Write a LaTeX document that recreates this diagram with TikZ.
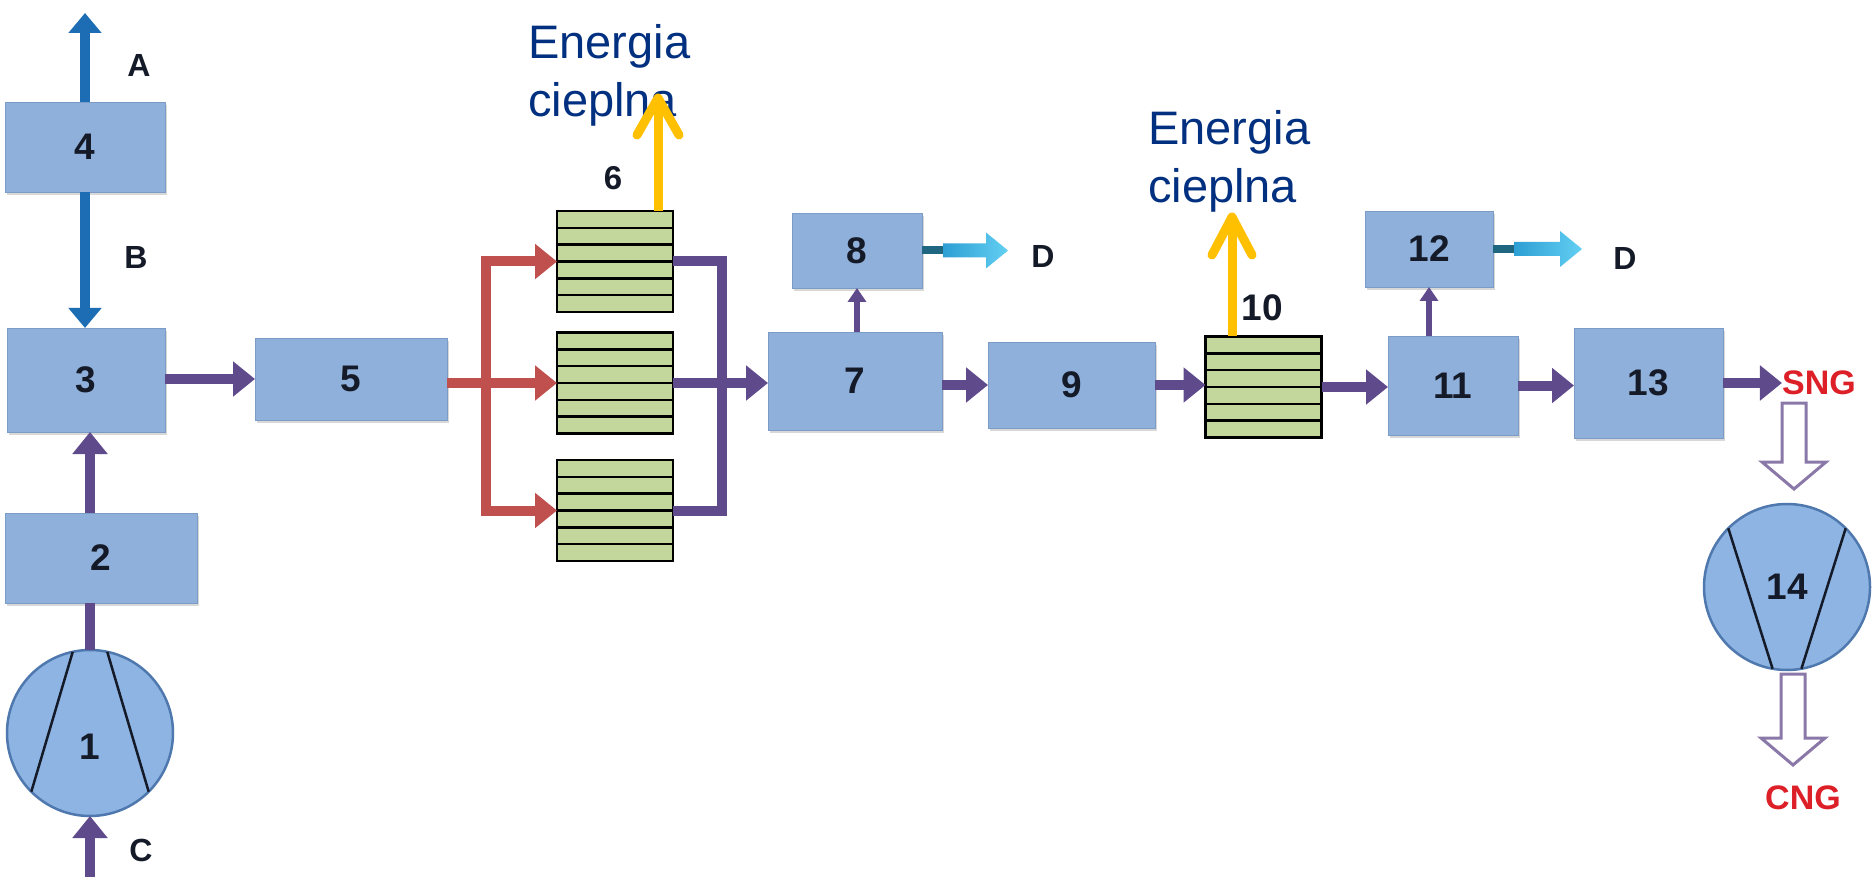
\documentclass[tikz,border=0pt]{standalone}
\usepackage{fontspec}
\setmainfont{Liberation Sans}
\usetikzlibrary{arrows.meta,calc,shadows}
\definecolor{boxblue}{HTML}{8FB0DA}
\definecolor{boxedge}{HTML}{7C9CC8}
\definecolor{flowpurple}{HTML}{5F4B8B}
\definecolor{flowred}{HTML}{C0504D}
\definecolor{flowblue}{HTML}{1C6DB4}
\definecolor{exgreen}{HTML}{C3D69B}
\definecolor{heatyellow}{HTML}{FFC000}
\definecolor{textnavy}{HTML}{00307F}
\definecolor{circfill}{HTML}{8DB4E2}
\definecolor{circedge}{HTML}{4F79AE}
\definecolor{hollowedge}{HTML}{8A78A8}
\definecolor{gasred}{HTML}{DD2027}
\definecolor{tealdark}{HTML}{1F6680}
\definecolor{cyanA}{HTML}{2E9FD4}
\definecolor{cyanB}{HTML}{62CFF2}
\definecolor{numink}{HTML}{151A28}
\newcommand{\diagnum}{\bfseries\fontsize{37}{44}\selectfont}
\newcommand{\cyanflow}[2]{%
  \fill[tealdark] ($(#1)+(0,-4)$) rectangle ($(#1)+(24,4)$);
  \shade[left color=cyanA, right color=cyanB] ($(#1)+(21,-7)$) -- ($(#2)+(-22,-7)$) -- ($(#2)+(-22,-18)$) -- (#2) -- ($(#2)+(-22,18)$) -- ($(#2)+(-22,7)$) -- ($(#1)+(21,7)$) -- cycle;}
\newcommand{\hollowflow}[2]{%
  \draw[draw=hollowedge, line width=3pt, fill=white, line join=miter] ($(#1)+(-12,0)$) -- ($(#2)+(-12,-27)$) -- ($(#2)+(-32,-27)$) -- (#2) -- ($(#2)+(32,-27)$) -- ($(#2)+(12,-27)$) -- ($(#1)+(12,0)$) -- cycle;}
\begin{document}
\begin{tikzpicture}[x=1pt,y=-1pt,
  box/.style={fill=boxblue, draw=boxedge, line width=0.8pt, inner sep=0pt, outer sep=0pt,
    font=\diagnum, text=numink,
    drop shadow={shadow xshift=1.5pt, shadow yshift=-3pt, opacity=0.3}},
  circ/.style={circle, draw=circedge, line width=2.5pt, fill=circfill, minimum size=166pt,
    inner sep=0pt, outer sep=0pt, font=\diagnum, text=numink},
  exch/.style={draw=black, line width=2.4pt, fill=exgreen, inner sep=0pt, outer sep=0pt,
    minimum width=116pt, minimum height=101pt,
    path picture={\foreach \k in {1,...,5}{\draw[line width=2.4pt]
      ($(path picture bounding box.north west)!\k/6!(path picture bounding box.south west)$) --
      ($(path picture bounding box.north east)!\k/6!(path picture bounding box.south east)$);}}},
  num/.style={font=\diagnum, text=numink, inner sep=0pt},
  letter/.style={font=\bfseries\fontsize{32}{38}\selectfont, text=numink, inner sep=0pt},
  energy/.style={font=\fontsize{47}{58}\selectfont, text=textnavy, align=left, inner sep=0pt},
  gas/.style={font=\bfseries\fontsize{34}{40}\selectfont, text=gasred, inner sep=0pt},
  pflow/.style={draw=flowpurple, line width=10pt, -{Triangle[length=22pt,width=34pt]}},
  pline/.style={draw=flowpurple, line width=10pt, line join=miter},
  thinflow/.style={draw=flowpurple, line width=6pt, -{Triangle[length=14pt,width=18pt]}},
  rflow/.style={draw=flowred, line width=10pt, line join=miter, -{Triangle[length=22pt,width=34pt]}},
  bflow/.style={draw=flowblue, line width=10pt, -{Triangle[length=20pt,width=32pt]}},
  heat/.style={draw=heatyellow, line width=9pt, line cap=round, line join=round},
  blade/.style={draw=numink, line width=2.5pt}
]
\fill[white] (0,0) rectangle (1872,877);
\useasboundingbox (0,0) rectangle (1872,877);

% process units
\node[box, minimum width=160pt, minimum height=90pt] (b4) at (85,147) {4};
\node[box, minimum width=158pt, minimum height=104pt] (b3) at (86,380) {3};
\node[box, minimum width=192pt, minimum height=90pt] (b2) at (101,558) {2};
\node[circ] (c1) at (90,733) {};
\node[num] (l1) at (90,747) {1};
\node[box, minimum width=192pt, minimum height=82pt] (b5) at (351,379) {5};
\node[exch] (ex6a) at (615,261.5) {};
\node[exch] (ex6b) at (615,383) {};
\node[exch] (ex6c) at (615,510.5) {};
\node[box, minimum width=174pt, minimum height=98pt] (b7) at (855,381) {7};
\node[box, minimum width=130pt, minimum height=75pt] (b8) at (857,250.5) {8};
\node[box, minimum width=167pt, minimum height=86pt] (b9) at (1071.5,385) {9};
\node[exch] (ex10) at (1263.5,387) {};
\node[box, minimum width=130pt, minimum height=99pt] (b11) at (1453,385.5) {11};
\node[box, minimum width=128pt, minimum height=76pt] (b12) at (1429,249) {12};
\node[box, minimum width=149pt, minimum height=110pt] (b13) at (1648.5,383) {13};
\node[circ] (c14) at (1787,587) {14};

% compressor blades
\draw[blade] (c1.102) -- (c1.225);
\draw[blade] (c1.78) -- (c1.315);
\draw[blade] (c14.135) -- (c14.260);
\draw[blade] (c14.45) -- (c14.280);

% texts
\node[letter] (la) at (139,65) {A};
\node[letter] (lb) at (136,257) {B};
\node[letter] (lc) at (141,850) {C};
\node[letter] (d8) at (1043,256) {D};
\node[letter] (d12) at (1625,258) {D};
\node[gas] (sng) at (1819,383) {SNG};
\node[gas] (cng) at (1803,798) {CNG};
\node[num, font=\bfseries\fontsize{33}{40}\selectfont] (l6) at (613,178) {6};
\node[num] (l10) at (1262,308) {10};
\node[energy, anchor=base west] (e6) at (528,117) {Energia\\cieplna};
\node[energy, anchor=base west] (e10) at (1148,203) {Energia\\cieplna};

% free ends
\coordinate (aTip) at (87,13);
\coordinate (cStart) at (90,877);
\coordinate (rx) at (486,381);
\coordinate (px) at (722,381);
\coordinate (t8) at ($(b8.east)+(86,0)$);
\coordinate (t12) at ($(b12.east)+(89,0)$);
\coordinate (y6) at (658,98);
\coordinate (y10) at (1232,217);
\coordinate (h1a) at (1794,403);
\coordinate (h1b) at (1794,489);
\coordinate (h2a) at (1793,674);
\coordinate (h2b) at (1793,765);

% blue flows
\draw[bflow] (b4.north) -- (b4.north |- aTip);
\draw[bflow] (b4.south) -- (b4.south |- b3.north);

% purple flows, left column
\draw[pflow] (cStart) -- (c1.south);
\draw[pline] (c1.north) -- (c1.north |- b2.south);
\draw[pflow] (c1.north |- b2.north) -- (c1.north |- b3.south);
\draw[pflow] (b3.east |- b5.west) -- (b5.west);

% red distribution
\draw[rflow] (b5.east |- ex6b.west) -- (ex6b.west);
\draw[rflow] (rx |- ex6c.west) -- (rx |- ex6a.west) -- (ex6a.west);
\draw[rflow] (rx |- ex6a.west) -- (rx |- ex6c.west) -- (ex6c.west);

% purple collection
\draw[pline] (ex6a.east) -- (px |- ex6a.east) -- (px |- ex6c.east) -- (ex6c.east);
\draw[pflow] (ex6b.east) -- (b7.west |- ex6b.east);

% main line
\draw[thinflow] (b8.south |- b7.north) -- (b8.south);
\draw[pflow] (b7.east |- b9.west) -- (b9.west);
\draw[pflow] (b9.east) -- (b9.east -| ex10.west);
\draw[pflow] (ex10.east) -- (ex10.east -| b11.west);
\draw[thinflow] (b12.south |- b11.north) -- (b12.south);
\draw[pflow] (b11.east) -- (b11.east -| b13.west);
\draw[pflow] (b13.east) -- (b13.east -| sng.west);

% cyan outlets
\cyanflow{b8.east}{t8}
\cyanflow{b12.east}{t12}

% hollow arrows
\hollowflow{h1a}{h1b}
\hollowflow{h2a}{h2b}

% heat outlets
\draw[heat, line cap=butt] (ex6a.north -| y6) -- (y6);
\draw[heat] ($(y6)+(-21,37)$) -- (y6) -- ($(y6)+(21,37)$);
\draw[heat, line cap=butt] (ex10.north -| y10) -- (y10);
\draw[heat] ($(y10)+(-20,38)$) -- (y10) -- ($(y10)+(20,38)$);
\end{tikzpicture}
\end{document}
